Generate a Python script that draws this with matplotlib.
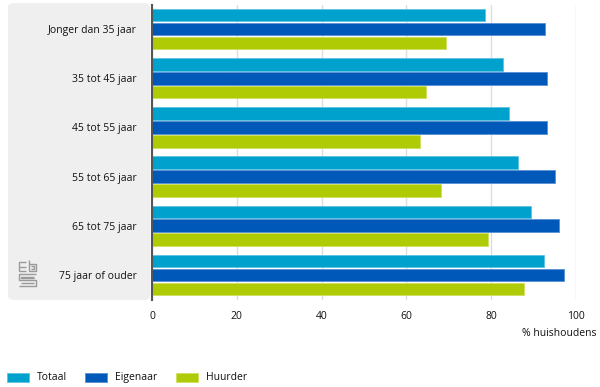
import numpy as np
import matplotlib
matplotlib.use('Agg')
import matplotlib.pyplot as plt
from matplotlib.patches import FancyBboxPatch, Rectangle

categories = ['Jonger dan 35 jaar', '35 tot 45 jaar', '45 tot 55 jaar',
              '55 tot 65 jaar', '65 tot 75 jaar', '75 jaar of ouder']
totaal = [78.5, 82.9, 84.3, 86.4, 89.4, 92.4]
eigenaar = [92.8, 93.1, 93.1, 95.0, 95.9, 97.1]
huurder = [69.3, 64.6, 63.2, 68.1, 79.2, 87.8]
series_names = ['Totaal', 'Eigenaar', 'Huurder']
colors = ['#00a1cd', '#0058b8', '#afcb05']
edges = ['#5cc3e0', '#5b8fd4', '#cfe060']
xticks = [0, 20, 40, 60, 80, 100]

plt.rcParams['font.family'] = ['Open Sans', 'DejaVu Sans']
txt = '#111111'

fig = plt.figure(figsize=(6, 3.87), dpi=100)

# grey label panel
panel = FancyBboxPatch((8 / 600, 1 - 300 / 387), 142 / 600, 297 / 387,
                       boxstyle='round,pad=0,rounding_size=0.012',
                       transform=fig.transFigure, facecolor='#efefef',
                       edgecolor='none', zorder=-1)
fig.patches.append(panel)

ax = fig.add_axes([152 / 600, 1 - 299.5 / 387, 424 / 600, 295 / 387])
ax.set_facecolor('none')

y = np.arange(len(categories))
h = 0.255
step = 0.284
for i, (vals, name) in enumerate(zip([totaal, eigenaar, huurder], series_names)):
    ax.barh(y + (i - 1) * step, vals, height=h, color=colors[i],
            edgecolor=edges[i], linewidth=0.6, label=name, zorder=3)

ax.set_xlim(0, 100)
ax.set_ylim(len(categories) - 0.5, -0.5)
ax.set_xticks(xticks)
ax.set_xticklabels([str(t) for t in xticks], fontsize=7.5, color=txt)
ax.set_yticks(y)
ax.set_yticklabels(categories, fontsize=7.5, color=txt)
ax.tick_params(axis='both', length=0)
ax.tick_params(axis='x', pad=8)
ax.tick_params(axis='y', pad=11)
ax.grid(axis='x', color='#dddddd', linewidth=1, zorder=0)
for s in ['top', 'right', 'bottom']:
    ax.spines[s].set_visible(False)
ax.spines['left'].set_color('#555555')
ax.spines['left'].set_linewidth(1.5)
ax.spines['left'].set_zorder(4)

fig.text(597 / 600, 1 - 334 / 387, '% huishoudens', ha='right', va='center',
         fontsize=7.5, color=txt)

# legend
lx = [7, 85, 176]
for i, name in enumerate(series_names):
    fig.patches.append(Rectangle((lx[i] / 600, 1 - 382 / 387), 22 / 600, 9 / 387,
                                 transform=fig.transFigure, facecolor=colors[i],
                                 edgecolor=edges[i], linewidth=0.6))
    fig.text((lx[i] + 30) / 600, 1 - 377.5 / 387, name, ha='left', va='center',
             fontsize=7.5, color=txt)

# simplified logo
lax = fig.add_axes([17 / 600, 1 - 289 / 387, 22 / 600, 30 / 387])
lax.set_xlim(0, 22)
lax.set_ylim(30, 0)
lax.axis('off')
lc = '#9a9a9a'
lw = 1.0
segs = [
    [(2, 8), (2, 3), (9, 3)],
    [(2, 8), (9, 8)],
    [(2, 12), (2, 8)],
    [(2, 12), (9, 12)],
    [(12, 1), (12, 12), (19, 12), (19, 5), (12, 5)],
    [(14, 7), (17, 7), (17, 10), (14, 10)],
    [(19, 15), (2, 15), (2, 21), (19, 21), (19, 27), (2, 27)],
    [(17, 17.5), (4, 17.5), (4, 18.5), (17, 18.5)],
    [(4, 24), (17, 24)],
]
for s in segs:
    xs, ys = zip(*s)
    lax.plot(xs, ys, color=lc, linewidth=lw, solid_capstyle='butt')

fig.savefig('out.png', dpi=100)
